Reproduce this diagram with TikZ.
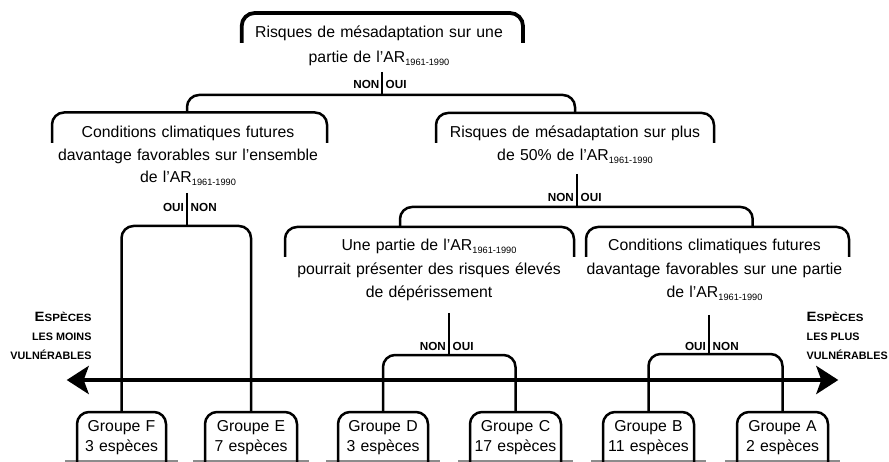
\documentclass[tikz,border=0pt]{standalone}
\usepackage{fontspec}
\setmainfont{Liberation Sans}
\usepackage{graphicx}
\usetikzlibrary{arrows.meta}
\newcommand{\arsub}{AR\raisebox{-3pt}{\fontsize{9.2}{9.2}\selectfont 1961-1990}}
\newcommand{\mysmcap}[1]{{\fontsize{10.5}{10.5}\selectfont #1}}
\newcommand{\mybigcap}[1]{{\fontsize{13.5}{13.5}\selectfont #1}}
\begin{document}
\begin{tikzpicture}[x=1pt,y=-1pt,
  ln/.style={line width=2.5pt, rounded corners=12pt, line join=round},
  topbr/.style={line width=3.8pt, rounded corners=13pt},
  txt/.style={font=\fontsize{15.8}{22.5}\selectfont, text width=330pt, align=center, anchor=base, inner sep=0pt},
  grp/.style={font=\fontsize{15.8}{20}\selectfont, text width=100pt, align=center, anchor=base, inner sep=0pt},
  yn/.style={font=\bfseries\fontsize{11.7}{12}\selectfont, inner sep=0pt},
  side/.style={font=\bfseries\fontsize{10.8}{11}\selectfont, inner sep=0pt},
  baseln/.style={line width=1.3pt, draw=black!45},
  bigarrow/.style={line width=4.6pt, {Stealth[length=22pt,width=28pt,inset=5pt]}-{Stealth[length=22pt,width=28pt,inset=5pt]}}
]
\useasboundingbox (0,0) rectangle (889,462);

% ---------- decision boxes (open brackets) ----------
\draw[topbr] (241.7,43) -- (241.7,13) -- (523,13) -- (523,43);
\node[txt, font=\fontsize{15.8}{25.5}\selectfont] (t0) at (379,37.5) {Risques de mésadaptation sur une\\partie de l’\arsub};

\draw[ln] (52,143) -- (52,112.5) -- (327,112.5) -- (327,143);
\node[txt] (t1) at (188,138) {Conditions climatiques futures\\davantage favorables sur l’ensemble\\de l’\arsub};

\draw[ln] (436,143) -- (436,113) -- (714,113) -- (714,143);
\node[txt] (t2) at (575,138) {Risques de mésadaptation sur plus\\de 50\% de l’\arsub};

\draw[ln] (285,257) -- (285,227) -- (574,227) -- (574,257);
\node[txt, font=\fontsize{15.8}{23.5}\selectfont] (t3) at (429,251) {Une partie de l’\arsub\\pourrait présenter des risques élevés\\de dépérissement};

\draw[ln] (586,257) -- (586,227) -- (849,227) -- (849,257);
\node[txt, font=\fontsize{15.8}{23.5}\selectfont] (t4) at (714.5,251) {Conditions climatiques futures\\davantage favorables sur une partie\\de l’\arsub};

% ---------- connector anchor points ----------
\coordinate (t0b) at (382,72);
\coordinate (t0j) at (382,95);
\coordinate (t1top) at (187,112.5);
\coordinate (t2top) at (575,113);
\coordinate (t1b) at (187,193);
\coordinate (t1j) at (187,226);
\coordinate (t2b) at (577,174);
\coordinate (t2j) at (577,207);
\coordinate (t3top) at (400,227);
\coordinate (t4top) at (752.7,227);
\coordinate (t3b) at (449,313);
\coordinate (t3j) at (449,355);
\coordinate (t4b) at (709,315);
\coordinate (t4j) at (709,354);

% ---------- group boxes ----------
\foreach \nm/\l/\r in {F/77/166, E/205/297, D/338/428, C/470/561, B/603/694, A/737/828}{
  \draw[baseln] (\l-12,461) -- (\r+12,461);
  \draw[ln] (\l,462) -- (\l,412) -- (\r,412) -- (\r,462);
  \coordinate (g\nm) at ({(\l+\r)/2},412);
}
\node[grp] (nF) at (121.5,431.5) {Groupe F\\3 espèces};
\node[grp] (nE) at (251,431.5) {Groupe E\\7 espèces};
\node[grp] (nD) at (383,431.5) {Groupe D\\3 espèces};
\node[grp] (nC) at (515.5,431.5) {Groupe C\\17 espèces};
\node[grp] (nB) at (648.5,431.5) {Groupe B\\11 espèces};
\node[grp] (nA) at (782.5,431.5) {Groupe A\\2 espèces};

% ---------- connectors ----------
\draw[ln] (t0b) -- (t0j);
\draw[ln] (t1top) |- (t0j) -| (t2top);
\node[yn, anchor=base east] (y0n) at (379.5,89) {NON};
\node[yn, anchor=base west] (y0o) at (385.5,89) {OUI};

\draw[ln] (t1b) -- (t1j);
\draw[ln] (gF) |- (t1j) -| (gE);
\node[yn, anchor=base east] (y1o) at (184,211.5) {OUI};
\node[yn, anchor=base west] (y1n) at (190.5,211.5) {NON};

\draw[ln] (t2b) -- (t2j);
\draw[ln] (t3top) |- (t2j) -| (t4top);
\node[yn, anchor=base east] (y2n) at (574,201.5) {NON};
\node[yn, anchor=base west] (y2o) at (580.5,201.5) {OUI};

\draw[ln] (t3b) -- (t3j);
\draw[ln] (gD) |- (t3j) -| (gC);
\node[yn, anchor=base east] (y3n) at (446,351) {NON};
\node[yn, anchor=base west] (y3o) at (452.5,351) {OUI};

\draw[ln] (t4b) -- (t4j);
\draw[ln] (gB) |- (t4j) -| (gA);
\node[yn, anchor=base east] (y4o) at (706,350.5) {OUI};
\node[yn, anchor=base west] (y4n) at (712.5,350.5) {NON};

% ---------- vulnerability axis ----------
\coordinate (aL) at (66.7,380);
\coordinate (aR) at (838.3,380);
\draw[bigarrow] (aL) -- (aR);

\node[side, anchor=base east] (l1) at (91.7,321.5) {\scalebox{1.1}[1]{\mybigcap{E}\mysmcap{SPÈCES}}};
\node[side, anchor=base east] (l2) at (91.7,340.5) {LES MOINS};
\node[side, anchor=base east] (l3) at (91.7,359.5) {VULNÉRABLES};

\node[side, anchor=base west] (r1) at (806.5,321.5) {\scalebox{1.1}[1]{\mybigcap{E}\mysmcap{SPÈCES}}};
\node[side, anchor=base west] (r2) at (806.5,340.5) {LES PLUS};
\node[side, anchor=base west] (r3) at (806.5,359.5) {VULNÉRABLES};
\end{tikzpicture}
\end{document}
